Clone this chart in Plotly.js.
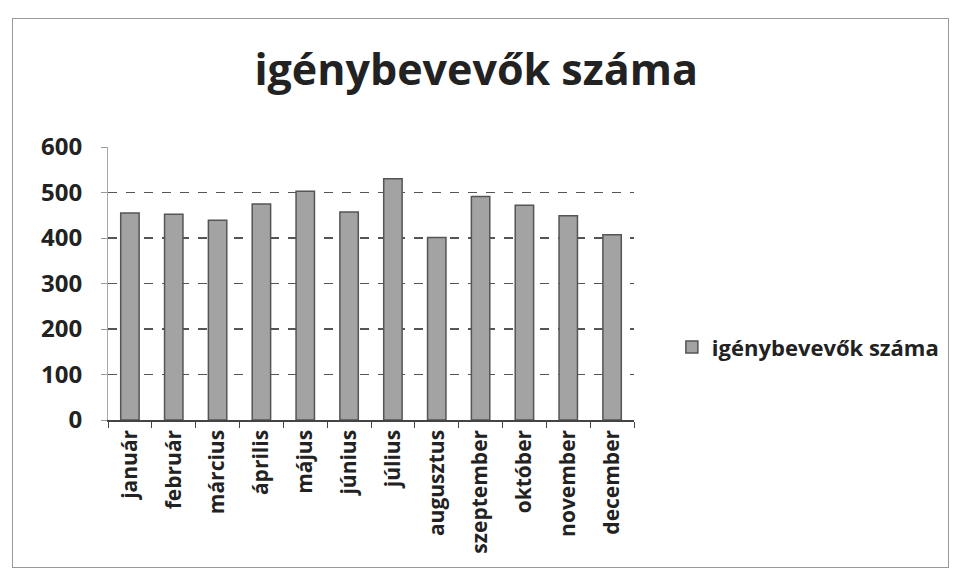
<!DOCTYPE html>
<html>
<head>
<meta charset="utf-8">
<script src="https://cdn.plot.ly/plotly-3.0.1.min.js"></script>
<style>
html,body{margin:0;padding:0;background:#fff;}
#wrap{position:relative;width:960px;height:581px;}
#chart{width:960px;height:581px;}
#frame{position:absolute;left:12px;top:18px;width:935px;height:548px;border:1px solid #999;pointer-events:none;}
</style>
</head>
<body>
<div id="wrap"><div id="chart"></div><div id="frame"></div></div>
<script>
const months = ["január","február","március","április","május","június","július","augusztus","szeptember","október","november","december"];
const values = [455, 452, 439, 475, 503, 457, 530, 401, 491, 472, 449, 407];
const seriesName = "igénybevevők száma";
const yTicks = [0, 100, 200, 300, 400, 500, 600];

const FONT = '"Open Sans", Lato, sans-serif';

const trace = {
  type: 'bar',
  x: months,
  y: values,
  name: seriesName,
  showlegend: true,
  marker: {color: '#a3a3a3', line: {color: '#555', width: 1.5}}
};

const layout = {
  width: 960, height: 581,
  paper_bgcolor: '#fff', plot_bgcolor: '#fff',
  margin: {l: 108, r: 326, t: 147, b: 161},
  font: {family: FONT, color: '#222'},
  title: {text: '<b>igénybevevők száma</b>', x: 0.496, xanchor: 'center', y: 0.88, yanchor: 'middle',
          font: {size: 43, color: '#222', family: FONT}},
  bargap: 0.58,
  xaxis: {
    type: 'category', tickangle: -90, tickson: 'boundaries', ticks: 'outside', ticklen: 6,
    tickcolor: '#444', showline: true, linecolor: '#444', linewidth: 1.5,
    tickfont: {size: 21, color: '#222', family: FONT, weight: 'bold'},
    showgrid: false
  },
  yaxis: {
    range: [0, 600], tickvals: yTicks, ticktext: yTicks.map(String),
    ticks: 'outside', ticklen: 6, tickcolor: '#999', ticklabelstandoff: 14,
    showline: true, linecolor: '#aaa', linewidth: 1,
    showgrid: true, gridcolor: '#555', griddash: 'dash', gridwidth: 1.2,
    zeroline: false,
    tickfont: {size: 24, color: '#222', family: FONT, weight: 'bold'}
  },
  legend: {
    x: 1.072, xanchor: 'left', y: 0.267, yanchor: 'middle',
    font: {size: 22, color: '#222', family: FONT, weight: 'bold'},
    bgcolor: 'rgba(0,0,0,0)', itemwidth: 30
  }
};

Plotly.newPlot('chart', [trace], layout, {displayModeBar: false, staticPlot: true});
</script>
</body>
</html>
